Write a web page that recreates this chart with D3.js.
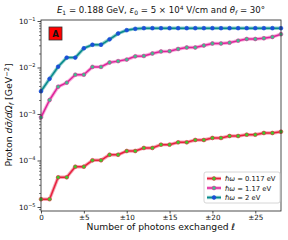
<!DOCTYPE html>
<html>
<head>
<meta charset="utf-8">
<script src="https://cdn.jsdelivr.net/npm/d3@7/dist/d3.min.js"></script>
<style>
body { margin: 0; background: #fff; }
text { font-family: "DejaVu Sans", sans-serif; fill: #111; }
</style>
</head>
<body>
<svg id="chart" width="288" height="240"></svg>
<script>
// photon number ℓ (x categories)
var ells = [0, 1, 2, 3, 4, 5, 6, 7, 8, 9, 10, 11, 12, 13, 14, 15, 16, 17, 18, 19, 20, 21, 22, 23, 24, 25, 26, 27, 28];

// proton dσ/dΩ for each photon energy
var sigma0117 = [1.47e-5, 1.47e-5, 4.35e-5, 4.35e-5, 7.36e-5, 7.36e-5, 1.01e-4, 1.01e-4, 1.33e-4, 1.33e-4,
    1.60e-4, 1.60e-4, 1.86e-4, 1.86e-4, 2.19e-4, 2.19e-4, 2.46e-4, 2.46e-4, 2.76e-4, 2.76e-4,
    3.05e-4, 3.05e-4, 3.36e-4, 3.36e-4, 3.59e-4, 3.59e-4, 3.90e-4, 3.90e-4, 4.16e-4];
var sigma117 = [8.49e-4, 2.0e-3, 3.86e-3, 4.71e-3, 7.0e-3, 7.0e-3, 1.03e-2, 1.03e-2, 1.28e-2, 1.37e-2,
    1.48e-2, 1.74e-2, 1.77e-2, 2.0e-2, 2.21e-2, 2.24e-2, 2.50e-2, 2.69e-2, 2.69e-2, 2.97e-2,
    3.28e-2, 3.28e-2, 3.41e-2, 3.77e-2, 4.10e-2, 4.10e-2, 4.25e-2, 4.53e-2, 5.20e-2];
var sigma2 = [3.08e-3, 5.71e-3, 1.04e-2, 1.63e-2, 1.63e-2, 2.59e-2, 3.08e-2, 3.08e-2, 4.04e-2, 5.38e-2,
    6.34e-2, 6.79e-2, 7.0e-2, 7.0e-2, 7.0e-2, 7.0e-2, 7.0e-2, 7.0e-2, 7.0e-2, 7.0e-2,
    7.0e-2, 7.0e-2, 7.0e-2, 7.0e-2, 7.0e-2, 7.0e-2, 7.0e-2, 7.0e-2, 7.0e-2];

var legendLabels = ['0.117 eV', '1.17 eV', '2 eV'];
var xTicks = [0, 5, 10, 15, 20, 25];
var yMajor = [1e-5, 1e-4, 1e-3, 1e-2, 1e-1];

var series = [
    { name: legendLabels[0], values: sigma0117, line: '#e8203f', halo: '#f08090', dot: '#3ccc2a', edge: '#e8203f' },
    { name: legendLabels[1], values: sigma117,  line: '#e0239a', halo: '#f08ccb', dot: '#3cc38a', edge: '#e0239a' },
    { name: legendLabels[2], values: sigma2,    line: '#088a8c', halo: '#60b8b8', dot: '#1a4fd6', edge: '#1a4fd6' }
];

var frame = { left: 41, right: 281, top: 20, bottom: 211 };

var svg = d3.select('#chart');

var x = d3.scaleLinear().domain([0, 28]).range([frame.left, frame.right]);
var y = d3.scaleLog().domain([8.2e-6, 1.05e-1]).range([frame.bottom, frame.top]);

// minor log ticks
var yMinor = [];
yMajor.forEach(function (d) {
    [2, 3, 4, 5, 6, 7, 8, 9].forEach(function (m) {
        var v = d * m;
        if (v < 1.05e-1) yMinor.push(v);
    });
});
[9e-6].forEach(function (v) { yMinor.push(v); });

// Axes
var xAxis = svg.append('g')
    .attr('transform', `translate(0, ${ frame.bottom })`)
    .call(d3.axisBottom(x).tickValues(xTicks).tickSize(2.5).tickPadding(1)
        .tickFormat(d => d === 0 ? '0' : '\u00b1' + d))
;
xAxis.select('.domain').remove();
xAxis.selectAll('text').style('font-size', '7.2px').attr('fill', '#111');
xAxis.selectAll('line').attr('stroke', '#222').attr('stroke-width', 0.8);

var yMinorAxis = svg.append('g')
    .attr('transform', `translate(${ frame.left }, 0)`)
    .call(d3.axisLeft(y).tickValues(yMinor).tickSize(2).tickFormat(''))
;
yMinorAxis.select('.domain').remove();
yMinorAxis.selectAll('line').attr('stroke', '#222').attr('stroke-width', 0.6);

var yAxis = svg.append('g')
    .attr('transform', `translate(${ frame.left }, 0)`)
    .call(d3.axisLeft(y).tickValues(yMajor).tickSize(3.5).tickPadding(2).tickFormat(''))
;
yAxis.select('.domain').remove();
yAxis.selectAll('line').attr('stroke', '#222').attr('stroke-width', 0.8);
yAxis.selectAll('.tick text')
    .style('font-size', '7.2px')
    .attr('fill', '#111')
    .each(function (d) {
        var t = d3.select(this);
        t.append('tspan').text('10');
        t.append('tspan').attr('dy', -3).style('font-size', '5px').text('\u2212' + Math.round(-Math.log10(d)));
    })
;

// Lines and markers
var line = d3.line()
    .x((d, i) => x(ells[i]))
    .y(d => y(d))
;

var groups = svg.selectAll('.series')
    .data(series)
    .enter().append('g')
    .attr('class', 'series')
;

groups.append('path')
    .attr('d', s => line(s.values))
    .attr('fill', 'none')
    .attr('stroke', s => s.halo)
    .attr('stroke-opacity', 0.7)
    .attr('stroke-width', 3.4)
    .attr('stroke-linejoin', 'round')
;
groups.append('path')
    .attr('d', s => line(s.values))
    .attr('fill', 'none')
    .attr('stroke', s => s.line)
    .attr('stroke-width', 1.5)
    .attr('stroke-linejoin', 'round')
;
groups.each(function (s) {
    d3.select(this).selectAll('circle')
        .data(s.values)
        .enter().append('circle')
        .attr('cx', (d, i) => x(ells[i]))
        .attr('cy', d => y(d))
        .attr('r', 1.9)
        .attr('fill', s.dot)
        .attr('stroke', s.edge)
        .attr('stroke-width', 0.6)
    ;
});

// Frame
svg.append('rect')
    .attr('x', frame.left)
    .attr('y', frame.top)
    .attr('width', frame.right - frame.left)
    .attr('height', frame.bottom - frame.top)
    .attr('fill', 'none')
    .attr('stroke', '#222')
    .attr('stroke-width', 0.8)
;

// Panel badge
svg.append('rect')
    .attr('x', 49).attr('y', 27).attr('width', 13).attr('height', 13)
    .attr('fill', '#ff0000').attr('stroke', '#333').attr('stroke-width', 0.8)
;
svg.append('text')
    .attr('x', 55.5).attr('y', 36.8)
    .attr('text-anchor', 'middle')
    .style('font-size', '8.5px').style('font-weight', 'bold')
    .text('A')
;

// Title
var title = svg.append('text')
    .attr('x', 161).attr('y', 13)
    .attr('text-anchor', 'middle')
    .style('font-size', '8.6px')
;
title.append('tspan').style('font-style', 'italic').text('E');
title.append('tspan').attr('dy', 2).style('font-size', '6px').text('1');
title.append('tspan').attr('dy', -2).text(' = 0.188 GeV, ');
title.append('tspan').style('font-style', 'italic').text('\u03b5');
title.append('tspan').attr('dy', 2).style('font-size', '6px').text('0');
title.append('tspan').attr('dy', -2).text(' = 5 \u00d7 10');
title.append('tspan').attr('dy', -3).style('font-size', '6px').text('4');
title.append('tspan').attr('dy', 3).text(' V/cm and ');
title.append('tspan').style('font-style', 'italic').text('\u03b8');
title.append('tspan').attr('dy', 2).style('font-size', '6px').style('font-style', 'italic').text('f');
title.append('tspan').attr('dy', -2).text(' = 30\u00b0');

// Axis labels
svg.append('text')
    .attr('x', 161).attr('y', 230)
    .attr('text-anchor', 'middle')
    .style('font-size', '9.2px')
    .text('Number of photons exchanged ')
    .append('tspan').style('font-style', 'italic').text('\u2113')
;

var ylab = svg.append('text')
    .attr('transform', 'translate(12, 115) rotate(-90)')
    .attr('text-anchor', 'middle')
    .style('font-size', '9.4px')
;
ylab.append('tspan').text('Proton ');
ylab.append('tspan').style('font-style', 'italic').text('d\u03c3\u0304/d\u03a9');
ylab.append('tspan').attr('dy', 2).style('font-size', '6.6px').style('font-style', 'italic').text('f');
ylab.append('tspan').attr('dy', -2).text(' [GeV');
ylab.append('tspan').attr('dy', -3.5).style('font-size', '6.6px').text('\u22122');
ylab.append('tspan').attr('dy', 3.5).text(']');

// Legend
var legend = svg.append('g').attr('transform', 'translate(204, 172)');
legend.append('rect')
    .attr('width', 76).attr('height', 31).attr('rx', 2)
    .attr('fill', '#fff').attr('fill-opacity', 0.85)
    .attr('stroke', '#ccc').attr('stroke-width', 0.8)
;
var items = legend.selectAll('.item')
    .data(series)
    .enter().append('g')
    .attr('class', 'item')
    .attr('transform', (s, i) => `translate(0, ${ 6.5 + i * 9.5 })`)
;
items.append('line')
    .attr('x1', 3).attr('x2', 17).attr('y1', 0).attr('y2', 0)
    .attr('stroke', s => s.halo).attr('stroke-opacity', 0.7).attr('stroke-width', 3.4)
;
items.append('line')
    .attr('x1', 3).attr('x2', 17).attr('y1', 0).attr('y2', 0)
    .attr('stroke', s => s.line).attr('stroke-width', 1.5)
;
items.append('circle')
    .attr('cx', 10).attr('cy', 0).attr('r', 1.9)
    .attr('fill', s => s.dot).attr('stroke', s => s.edge).attr('stroke-width', 0.6)
;
var itemText = items.append('text')
    .attr('x', 21).attr('y', 2.5)
    .style('font-size', '6.8px')
;
itemText.append('tspan').style('font-style', 'italic').text('\u210f\u03c9');
itemText.append('tspan').text(s => ' = ' + s.name);
</script>
</body>
</html>
